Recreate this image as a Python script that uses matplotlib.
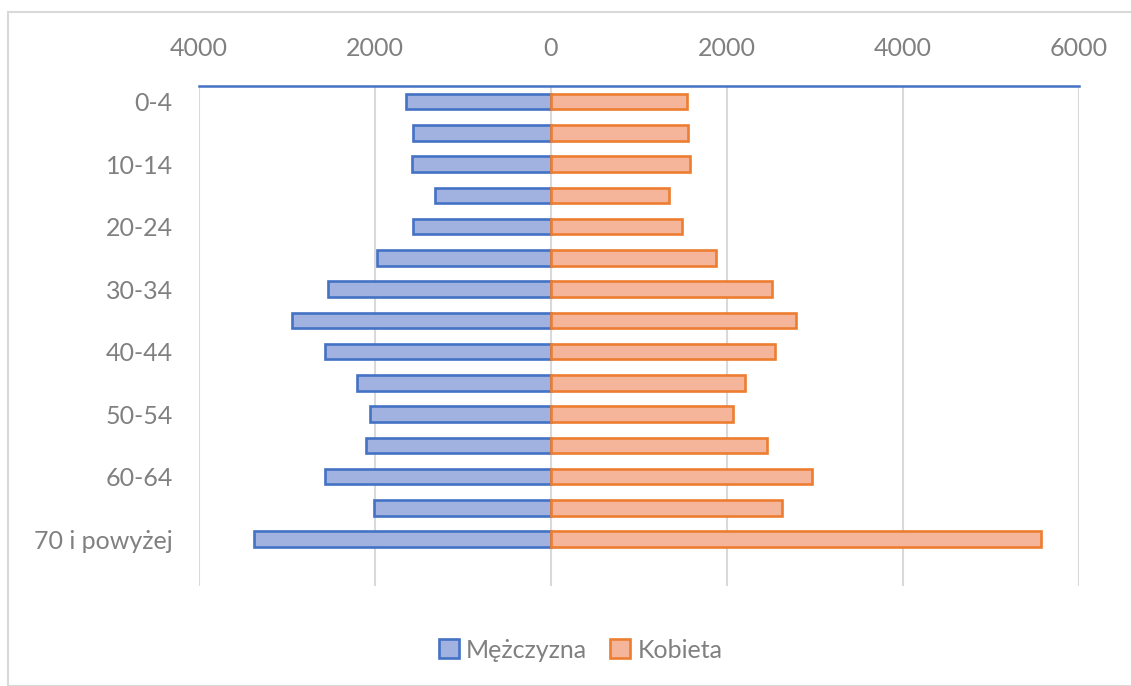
import matplotlib
matplotlib.use("Agg")
import matplotlib.pyplot as plt
from matplotlib.patches import Rectangle
import numpy as np

plt.rcParams['font.family'] = ['Lato', 'DejaVu Sans']

categories = ["0-4", "5-9", "10-14", "15-19", "20-24", "25-29", "30-34", "35-39",
              "40-44", "45-49", "50-54", "55-59", "60-64", "65-69", "70 i powyżej"]
men = [1650, 1563, 1582, 1321, 1563, 1977, 2530, 2940, 2565, 2204, 2060, 2100, 2565, 2012, 3374]
women = [1545, 1560, 1583, 1344, 1494, 1875, 2509, 2786, 2540, 2210, 2073, 2455, 2970, 2630, 5570]
xticks = [-4000, -2000, 0, 2000, 4000, 6000]
xtick_labels = ["4000", "2000", "0", "2000", "4000", "6000"]
series_names = ["Mężczyzna", "Kobieta"]

fig = plt.figure(figsize=(11.31, 6.86), dpi=100)
ax = fig.add_axes([199/1131, 1-586/686, 880/1131, 500/686])

y = np.arange(len(categories))
ax.barh(y, -np.array(men), height=0.5, color='#A2B2E0', edgecolor='#4472C4',
        linewidth=1.9, label=series_names[0], zorder=3)
ax.barh(y, women, height=0.5, color='#F4B59B', edgecolor='#ED7D31',
        linewidth=1.9, label=series_names[1], zorder=3)

ax.set_xlim(-4000, 6000)
ax.set_ylim(15.5, -0.5)
ax.set_xticks(xticks)
ax.set_xticklabels(xtick_labels)
ax.xaxis.tick_top()
ax.set_yticks(y[::2])
ax.set_yticklabels(categories[::2])
ax.tick_params(axis='both', length=0, labelsize=18, colors='#808080')
ax.tick_params(axis='x', pad=19)
ax.tick_params(axis='y', pad=19)
ax.grid(axis='x', color='#D9D9D9', linewidth=1.5, zorder=0)
for s in ['left', 'right', 'bottom']:
    ax.spines[s].set_visible(False)
ax.spines['top'].set_color('#4472C4')
ax.spines['top'].set_linewidth(1.8)

leg = fig.legend(loc='center', bbox_to_anchor=(0.5 + 15/1131, 1-650/686), ncol=2, frameon=False,
                 fontsize=18, handlelength=0.8, handleheight=0.8, handletextpad=0.3,
                 columnspacing=0.9)
for t in leg.get_texts():
    t.set_color('#808080')

fig.patches.append(Rectangle((8/1131, 0), 1, 1-12/686, transform=fig.transFigure,
                             fill=False, edgecolor='#D9D9D9', linewidth=1.5))

fig.savefig("out.png", dpi=100)
